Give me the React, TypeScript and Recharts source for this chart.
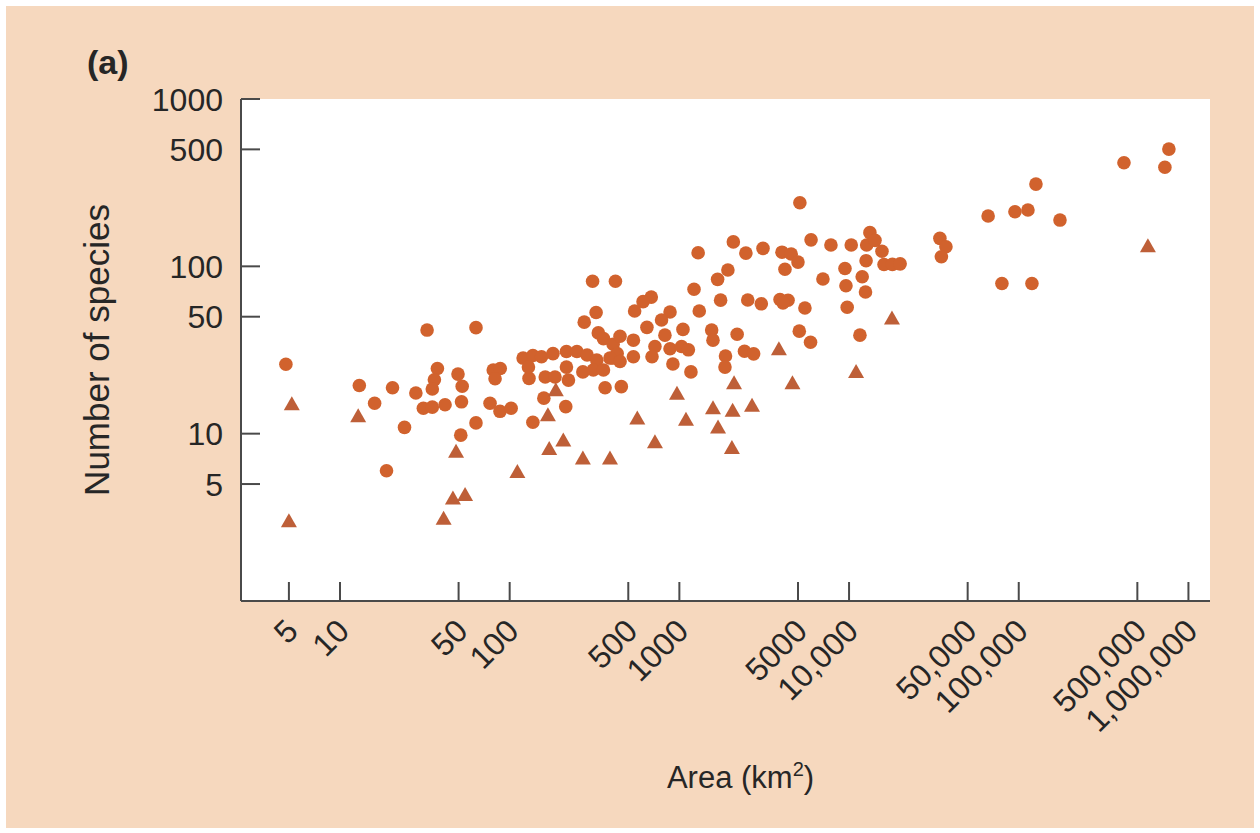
import { ScatterChart, Scatter, XAxis, YAxis, CartesianGrid } from "recharts";

// island area (km2) and species counts
const circleArea = [
  4.8, 13, 20.4, 16, 28, 37.5, 36, 35, 31, 35,
  41.6, 49.6, 52.5, 52, 24, 51.5, 18.8, 32.6, 63.3, 63.3,
  76.6, 87.7, 102, 80, 88, 82, 137, 120, 137, 154,
  180, 130, 162, 185, 159, 214, 216, 249, 286, 326,
  129, 216, 222, 270, 311, 357, 407, 365, 455, 308,
  420, 323, 275, 333, 357, 407, 447, 536, 430, 390,
  447, 536, 683, 611, 545, 881, 785, 1220, 1310, 1750,
  2530, 644, 1050, 822, 1550, 1578, 2190, 718, 881, 1030,
  1130, 690, 916, 1170, 1870, 1857, 2420, 2740, 1290, 2080,
  2466, 1932, 1680, 5130, 5970, 7820, 10300, 12700, 13270, 14220,
  15630, 12600, 16070, 18000, 20000, 3111, 4027, 4560, 5000, 4190,
  9460, 11950, 7015, 9590, 12500, 3040, 3918, 4370, 4080, 5495,
  9750, 5090, 5930, 11590, 767000, 726500, 417000, 126300, 66000, 95000,
  113300, 175000, 79600, 119600, 34300, 37230, 35000,
];
const circleSpecies = [
  26, 19.4, 18.8, 15.2, 17.5, 24.5, 21, 18.5, 14.2, 14.4,
  14.9, 22.7, 19.2, 15.5, 10.9, 9.8, 6.0, 41.6, 43, 11.6,
  15.2, 13.6, 14.2, 24, 24.5, 21.3, 11.7, 28.3, 29.3, 28.8,
  30.1, 21.4, 21.8, 21.8, 16.3, 14.5, 31, 31, 29.5, 27.5,
  25, 25, 20.9, 23.4, 24, 24, 28.3, 18.8, 19.1, 81.5,
  81.5, 53, 46.4, 40, 37, 34.2, 38.2, 36.2, 30.1, 28.3,
  27, 28.8, 65.5, 61.5, 54.1, 53.3, 47.8, 72.9, 54.1, 62.8,
  62.9, 43.2, 42, 38.8, 41.6, 36.2, 39.3, 33.2, 32.2, 33.2,
  31.7, 28.8, 26.1, 23.4, 29.1, 25, 31.1, 30, 120.5, 140,
  120, 95, 83.6, 240, 144, 134, 134, 134, 159, 143,
  123, 108, 102.5, 102.7, 103.5, 128, 121.5, 118.5, 106, 96,
  97, 86.7, 84, 76.5, 70.2, 59.7, 63.3, 62.7, 60.5, 56.4,
  56.9, 41, 35.2, 38.8, 502, 391, 416, 310, 200, 212,
  217, 189, 79, 79, 147, 131, 114,
];

const triangleArea = [
  5.2, 5.0, 12.8, 48.3, 46.3, 54.6, 40.8, 111, 168, 171,
  187, 207, 270, 390, 565, 718, 968, 1094, 1578, 2060,
  1690, 2040, 2100, 2680, 3860, 4640, 11000, 17900, 577000,
];
const triangleSpecies = [
  15, 3.0, 12.7, 7.8, 4.1, 4.3, 3.1, 5.9, 12.9, 8.1,
  18.2, 9.1, 7.1, 7.1, 12.3, 8.9, 17.3, 12.1, 14.2, 13.7,
  10.9, 8.2, 20, 14.7, 31.9, 20, 23.4, 48.7, 132,
];

const xTicks = [5, 10, 50, 100, 500, 1000, 5000, 10000, 50000, 100000, 500000, 1000000];
const xTickLabels = ["5", "10", "50", "100", "500", "1000", "5000", "10,000", "50,000", "100,000", "500,000", "1,000,000"];
const yTicks = [5, 10, 50, 100, 500, 1000];
const yTickLabels = ["5", "10", "50", "100", "500", "1000"];

const circles = circleArea.map((area, i) => ({ area, species: circleSpecies[i] }));
const triangles = triangleArea.map((area, i) => ({ area, species: triangleSpecies[i] }));

const FONT = '"Liberation Sans", Arial, Helvetica, sans-serif';
const AXIS = "#4a4a4a";
const INK = "#262626";
const DOT = "#D1622D";
const TRI = "#BE5F38";
const PEACH = "#F6D8BE";

function XTick({ x, y, payload }: any) {
  const label = xTickLabels[xTicks.indexOf(payload.value)];
  const tx = x + 11;
  const ty = y + 32;
  return (
    <g>
      <line x1={x} y1={y} x2={x} y2={y - 19} stroke={AXIS} strokeWidth={2} />
      <text
        x={tx}
        y={ty}
        transform={`rotate(-45 ${tx} ${ty})`}
        textAnchor="end"
        fontSize={32}
        fontFamily={FONT}
        fill={INK}
      >
        {label}
      </text>
    </g>
  );
}

function YTick({ x, y, payload }: any) {
  const label = yTickLabels[yTicks.indexOf(payload.value)];
  return (
    <g>
      <line x1={x} y1={y} x2={x + 19} y2={y} stroke={AXIS} strokeWidth={2} />
      <text x={x - 18} y={y} dy="0.36em" textAnchor="end" fontSize={32} fontFamily={FONT} fill={INK}>
        {label}
      </text>
    </g>
  );
}

function AreaTitle({ viewBox }: any) {
  const cx = viewBox.x + viewBox.width / 2 + 15;
  const by = viewBox.y + 187;
  return (
    <text x={cx} y={by} textAnchor="middle" fontSize={31} fontFamily={FONT} fill={INK}>
      Area (km
      <tspan fontSize={20} dy={-12}>2</tspan>
      <tspan dy={12}>)</tspan>
    </text>
  );
}

function SpeciesTitle({ viewBox }: any) {
  const bx = 109;
  const cy = viewBox.y + viewBox.height / 2;
  return (
    <g>
      <text
        x={bx}
        y={cy}
        transform={`rotate(-90 ${bx} ${cy})`}
        textAnchor="middle"
        fontSize={35}
        fontFamily={FONT}
        fill={INK}
      >
        Number of species
      </text>
      <text x={87} y={74} fontSize={34} fontWeight="bold" fontFamily={FONT} fill={INK}>
        (a)
      </text>
    </g>
  );
}

const Dot = (props: any) => <circle cx={props.cx} cy={props.cy} r={6.8} fill={DOT} />;

const Tri = (props: any) => {
  const { cx, cy } = props;
  return (
    <polygon
      points={`${cx},${cy - 8} ${cx - 8},${cy + 6} ${cx + 8},${cy + 6}`}
      fill={TRI}
    />
  );
};

export default function App() {
  return (
    <div style={{ position: "absolute", left: 0, top: 0, width: 1260, height: 833, background: "#fff" }}>
      <div style={{ position: "absolute", left: 6, top: 6, width: 1248, height: 822, background: PEACH }} />
      <div style={{ position: "absolute", left: 0, top: 0 }}>
        <ScatterChart width={1260} height={833} margin={{ top: 99, right: 50, bottom: 0, left: 0 }}>
          <CartesianGrid fill="#ffffff" horizontal={false} vertical={false} stroke="none" />
          <XAxis
            type="number"
            dataKey="area"
            scale="log"
            domain={[2.61, 1340000]}
            allowDataOverflow
            ticks={xTicks}
            interval={0}
            tick={<XTick />}
            tickLine={false}
            tickSize={0}
            tickMargin={0}
            axisLine={{ stroke: AXIS, strokeWidth: 2 }}
            height={232}
            label={<AreaTitle />}
          />
          <YAxis
            type="number"
            dataKey="species"
            scale="log"
            domain={[1, 1000]}
            allowDataOverflow
            ticks={yTicks}
            interval={0}
            tick={<YTick />}
            tickLine={false}
            tickSize={0}
            tickMargin={0}
            axisLine={{ stroke: AXIS, strokeWidth: 2 }}
            width={241}
            label={<SpeciesTitle />}
          />
          <Scatter data={circles} shape={Dot} isAnimationActive={false} />
          <Scatter data={triangles} shape={Tri} isAnimationActive={false} />
        </ScatterChart>
      </div>
    </div>
  );
}
